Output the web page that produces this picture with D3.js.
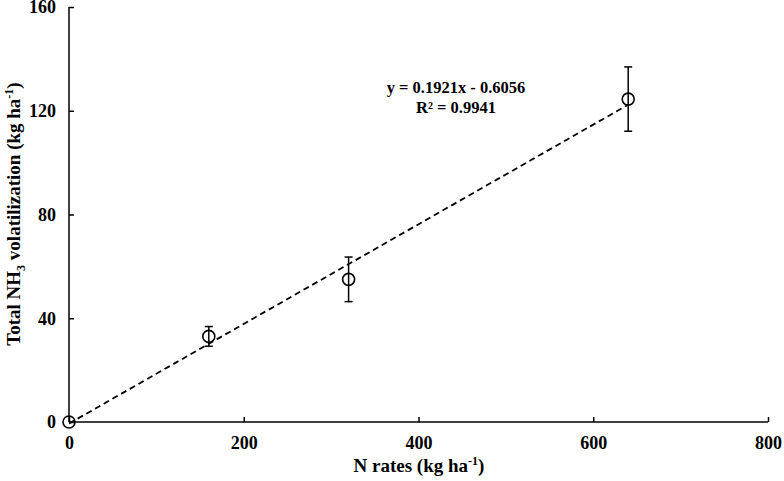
<!DOCTYPE html>
<html><head><meta charset="utf-8">
<script src="https://cdn.jsdelivr.net/npm/d3@7"></script>
<style>body{margin:0;background:#fff}svg{display:block}text{font-family:"Liberation Serif","Times New Roman",serif;font-weight:bold;fill:#000}</style>
</head><body><svg id="c" width="784" height="481"></svg>
<script>
const nRates = [0, 160, 320, 640];
const nh3 = [0, 33, 55, 124.5];
const errs = [0, 3.8, 8.6, 12.4];
const xTicks = [0, 200, 400, 600, 800];
const yTicks = [0, 40, 80, 120, 160];
const slope = 0.1921, intercept = -0.6056;

const svg = d3.select("#c");
const x = d3.scaleLinear().domain([0, 800]).range([69, 768]);
const y = d3.scaleLinear().domain([0, 160]).range([422, 7]);

const xa = svg.append("g").attr("transform", `translate(0,${y(0)})`)
  .call(d3.axisBottom(x).tickValues(xTicks).tickSize(-5).tickPadding(14).tickFormat(d3.format("d")));
const ya = svg.append("g").attr("transform", `translate(${x(0)},0)`)
  .call(d3.axisLeft(y).tickValues(yTicks).tickSize(-5).tickPadding(13).tickFormat(d3.format("d")));
[xa, ya].forEach(a => {
  a.selectAll("path,line").attr("stroke", "#000").attr("stroke-width", 1.5);
  a.selectAll("text").attr("font-size", 18).style("font-family", '"Liberation Serif",serif').style("font-weight", "bold");
});
xa.select(".domain").attr("d", `M${x(0)},0H${x(800)}`);
ya.select(".domain").attr("d", `M0,${y(0)}V${y(160)}`);

// trend line
svg.append("line")
  .attr("x1", x(0)).attr("y1", y(intercept))
  .attr("x2", x(640)).attr("y2", y(slope * 640 + intercept))
  .attr("stroke", "#000").attr("stroke-width", 1.8).attr("stroke-dasharray", "6,4");

// error bars
const pts = nRates.map((d, i) => ({x: d, y: nh3[i], e: errs[i]}));
const eb = svg.append("g");
pts.filter(p => p.e > 0).forEach(p => {
  eb.append("line").attr("x1", x(p.x)).attr("x2", x(p.x)).attr("y1", y(p.y - p.e)).attr("y2", y(p.y + p.e)).attr("stroke", "#000").attr("stroke-width", 1.5);
  [p.y - p.e, p.y + p.e].forEach(v => eb.append("line").attr("x1", x(p.x) - 4).attr("x2", x(p.x) + 4).attr("y1", y(v)).attr("y2", y(v)).attr("stroke", "#000").attr("stroke-width", 1.5));
});
svg.append("g").selectAll("circle").data(pts).join("circle")
  .attr("cx", d => x(d.x)).attr("cy", d => y(d.y)).attr("r", 6)
  .attr("fill", "none").attr("stroke", "#000").attr("stroke-width", 1.6);

// equation
svg.append("text").attr("x", 456).attr("y", 93).attr("text-anchor", "middle").attr("font-size", 16.5).text("y = 0.1921x - 0.6056");
svg.append("text").attr("x", 456).attr("y", 113).attr("text-anchor", "middle").attr("font-size", 16.5).text("R² = 0.9941");

// x label
const xl = svg.append("text").attr("x", 419).attr("y", 472).attr("text-anchor", "middle").attr("font-size", 19);
xl.append("tspan").text("N rates (kg ha");
xl.append("tspan").attr("dy", -7).attr("font-size", 12).text("-1");
xl.append("tspan").attr("dy", 7).text(")");

// y label
const yl = svg.append("text").attr("transform", "translate(20,214) rotate(-90)").attr("text-anchor", "middle").attr("font-size", 19);
yl.append("tspan").text("Total NH");
yl.append("tspan").attr("dy", 5).attr("font-size", 12).text("3");
yl.append("tspan").attr("dy", -5).text(" volatilization (kg ha");
yl.append("tspan").attr("dy", -7).attr("font-size", 12).text("-1");
yl.append("tspan").attr("dy", 7).text(")");
</script></body></html>
